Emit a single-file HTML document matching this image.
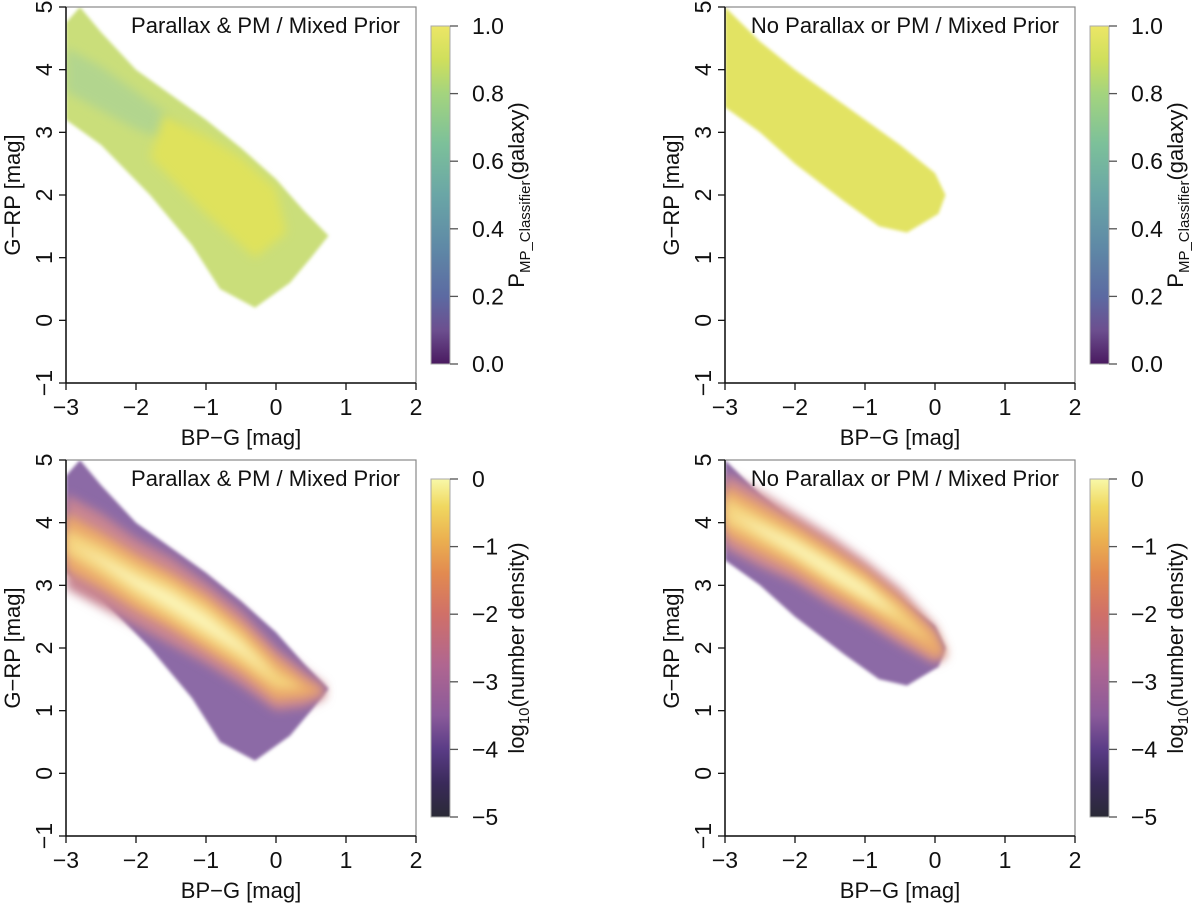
<!DOCTYPE html>
<html><head><meta charset="utf-8">
<style>
html,body{margin:0;padding:0;background:#fff;}
svg{display:block;font-family:"Liberation Sans",Arial,sans-serif;}
</style></head>
<body>
<svg id="fig" width="1200" height="907" viewBox="0 0 1200 907" xmlns="http://www.w3.org/2000/svg">
<defs>
<linearGradient id="viridis" x1="0" y1="1" x2="0" y2="0">
<stop offset="0" stop-color="#4a1a60"/><stop offset="0.1" stop-color="#6c4f8f"/>
<stop offset="0.2" stop-color="#5c6aa2"/><stop offset="0.35" stop-color="#5f8aa6"/>
<stop offset="0.5" stop-color="#6aa6a6"/><stop offset="0.65" stop-color="#7cc09a"/>
<stop offset="0.8" stop-color="#a4d47e"/><stop offset="0.9" stop-color="#cfdf5c"/>
<stop offset="1" stop-color="#ece666"/></linearGradient>
<linearGradient id="inferno" x1="0" y1="1" x2="0" y2="0">
<stop offset="0" stop-color="#2a2a36"/><stop offset="0.1" stop-color="#3a2a5a"/>
<stop offset="0.2" stop-color="#5a3c86"/><stop offset="0.3" stop-color="#8a5a9a"/>
<stop offset="0.45" stop-color="#b06690"/><stop offset="0.6" stop-color="#d07068"/>
<stop offset="0.72" stop-color="#e28a50"/><stop offset="0.82" stop-color="#ebb050"/>
<stop offset="0.92" stop-color="#f0d860"/><stop offset="1" stop-color="#f8f8a8"/></linearGradient>
<filter id="soft" x="-10%" y="-10%" width="120%" height="120%"><feGaussianBlur stdDeviation="5"/></filter>
<filter id="soft2" x="-10%" y="-10%" width="120%" height="120%"><feGaussianBlur stdDeviation="1.5"/></filter>
</defs>
</svg>
<script>
const xTicks=[-3,-2,-1,0,1,2];
const yTicks=[-1,0,1,2,3,4,5];
const probTicks=[0.0,0.2,0.4,0.6,0.8,1.0];
const densTicks=[-5,-4,-3,-2,-1,0];
// panel 1 (parallax & PM) outline of populated region
const p1OutlineBP=[-3,-2.8,-2.5,-2,-1.5,-1,-0.5,0,0.4,0.75,0.5,0.2,-0.3,-0.8,-1.2,-1.8,-2.5,-3];
const p1OutlineGRP=[4.75,5.0,4.6,4.0,3.6,3.2,2.75,2.25,1.75,1.35,1.0,0.6,0.2,0.5,1.2,2.0,2.8,3.2];
const p1CoreBP=[-1.6,-1.0,-0.5,0,0.15,-0.3,-1.0,-1.8];
const p1CoreGRP=[3.3,2.95,2.6,2.1,1.4,1.0,1.7,2.6];
// panel 2 (no parallax) outline
const p2OutlineBP=[-3,-2.5,-2,-1.5,-1,-0.5,0,0.15,0.05,-0.4,-0.8,-1.3,-2,-2.5,-3];
const p2OutlineGRP=[5.0,4.45,4.0,3.6,3.2,2.8,2.35,2.0,1.7,1.4,1.5,1.9,2.5,3.0,3.4];
// bottom panels: density ridge and level half-widths
const p3RidgeBP=[-3,-2.5,-2,-1.5,-1,-0.5,0,0.4,0.7];
const p3RidgeGRP=[3.7,3.4,3.05,2.75,2.4,2.0,1.5,1.35,1.3];
const p3Level1=[0.75,0.75,0.7,0.7,0.65,0.6,0.5,0.3,0.1];
const p3Level2=[0.45,0.45,0.45,0.45,0.45,0.4,0.35,0.15,0];
const p3Level3=[0.2,0.25,0.28,0.3,0.3,0.25,0.15,0,0];
const p3Level4=[0,0.05,0.1,0.14,0.14,0.08,0,0,0];
const p4RidgeBP=[-3,-2.5,-2,-1.5,-1,-0.5,0,0.15];
const p4RidgeGRP=[4.2,3.9,3.6,3.25,2.9,2.5,2.05,1.9];
const p4Level1=[0.6,0.6,0.55,0.55,0.5,0.45,0.3,0.05];
const p4Level2=[0.4,0.4,0.38,0.38,0.35,0.3,0.2,0];
const p4Level3=[0.22,0.22,0.22,0.22,0.2,0.14,0,0];
const p4Level4=[0,0.06,0.1,0.12,0.1,0,0,0];

const NS="http://www.w3.org/2000/svg";
const svg=document.getElementById('fig');
function mk(tag,attrs,parent){const e=document.createElementNS(NS,tag);for(const k in attrs)e.setAttribute(k,attrs[k]);(parent||svg).appendChild(e);return e;}

function panel(ox,oy,title,id){
  const L=66+ox,R=416+ox,T=7+oy,B=383+oy;
  const sx=v=>L+(v+3)/5*(R-L);
  const sy=v=>B-(v+1)/6*(B-T);
  const g=mk('g',{});
  
  
  const clip=mk('clipPath',{id:'clip'+id},g);
  mk('rect',{x:L,y:T,width:R-L,height:B-T},clip);
  const data=mk('g',{'clip-path':'url(#clip'+id+')'},g);
  
  
  return {g,data,L,R,T,B,sx,sy,title,id};
}
function poly(p,xs,ys,fill,parent,filter,name){
  const pts=xs.map((x,i)=>p.sx(x).toFixed(1)+','+p.sy(ys[i]).toFixed(1)).join(' ');
  const e=mk('polygon',{points:pts,fill:fill,'stroke-linejoin':'round'},parent||p.data);
  if(filter)e.setAttribute('filter',filter);
  
  
  return e;
}
function band(p,rx,ry,w,fill,name){
  const xs=[],ys=[];
  rx.forEach((x,i)=>{xs.push(x);ys.push(ry[i]+w[i]);});
  for(let i=rx.length-1;i>=0;i--){xs.push(rx[i]);ys.push(ry[i]-w[i]);}
  poly(p,xs,ys,fill,null,'url(#soft)',name);
}
function axes(p,cbGrad,cbTicks,cbLabelFmt,cbTitle){
  const g=p.g;
  const box=mk('rect',{x:p.L,y:p.T,width:p.R-p.L,height:p.B-p.T,fill:'none',stroke:'#888','stroke-width':1.2},g);
  
  
  mk('line',{x1:p.L,y1:p.B,x2:p.R,y2:p.B,stroke:'#111','stroke-width':1.5},g);
  mk('line',{x1:p.L,y1:p.T,x2:p.L,y2:p.B,stroke:'#111','stroke-width':1.5},g);
  xTicks.forEach(v=>{
    const x=p.sx(v);
    mk('line',{x1:x,y1:p.B,x2:x,y2:p.B+7,stroke:'#111','stroke-width':1.3},g);
    const t=mk('text',{x:x,y:p.B+32,'text-anchor':'middle','font-size':23,fill:'#111'},g);
    t.textContent=v<0?'\u2212'+(-v):String(v);
    
    
  });
  yTicks.forEach(v=>{
    const y=p.sy(v);
    mk('line',{x1:p.L,y1:y,x2:p.L-7,y2:y,stroke:'#111','stroke-width':1.3},g);
    const t=mk('text',{x:0,y:0,'text-anchor':'middle','font-size':23,fill:'#111',transform:`translate(${p.L-14},${y}) rotate(-90)`},g);
    t.textContent=v<0?'\u2212'+(-v):String(v);
    
    
  });
  const xt=mk('text',{x:(p.L+p.R)/2,y:p.B+62,'text-anchor':'middle','font-size':22,fill:'#111'},g);
  xt.textContent='BP\u2212G [mag]';
  
  
  const yt=mk('text',{x:0,y:0,'text-anchor':'middle','font-size':22,fill:'#111',transform:`translate(${p.L-46},${(p.T+p.B)/2}) rotate(-90)`},g);
  yt.textContent='G\u2212RP [mag]';
  
  
  const tt=mk('text',{x:p.R-16,y:p.T+26,'text-anchor':'end','font-size':22,fill:'#111'},g);
  tt.textContent=p.title;
  
  
  // colorbar
  const cL=p.R+15,cR=p.R+34,cT=p.T+19,cB=p.B-19;
  const cb=mk('rect',{x:cL,y:cT,width:cR-cL,height:cB-cT,fill:'url(#'+cbGrad+')',stroke:'#aaa','stroke-width':1},g);
  
  
  const lo=cbTicks[0],hi=cbTicks[cbTicks.length-1];
  cbTicks.forEach(v=>{
    const y=cB-(v-lo)/(hi-lo)*(cB-cT);
    mk('line',{x1:cR,y1:y,x2:cR+8,y2:y,stroke:'#555','stroke-width':1.3},g);
    const t=mk('text',{x:cR+22,y:y+8,'font-size':23,fill:'#111'},g);
    t.textContent=cbLabelFmt(v);
    
    
  });
  const ct=mk('text',{x:0,y:0,'text-anchor':'middle','font-size':22,fill:'#111',transform:`translate(${cR+74},${(cT+cB)/2}) rotate(-90)`},g);
  ct.innerHTML=cbTitle;
  
  
}
const probFmt=v=>v.toFixed(1);
const densFmt=v=>v<0?'\u2212'+(-v):String(v);
const probTitle='P<tspan font-size="15" dy="6">MP_Classifier</tspan><tspan dy="-6">(galaxy)</tspan>';
const densTitle='log<tspan font-size="15" dy="5">10</tspan><tspan dy="-5">(number density)</tspan>';

// Panel 1
const p1=panel(0,0,'Parallax & PM / Mixed Prior','p1');
poly(p1,p1OutlineBP,p1OutlineGRP,'#cade7a',null,'url(#soft2)','probability-region');
band(p1,p3RidgeBP,p3RidgeGRP.map(v=>v+0.3),[0.35,0.35,0.3,0.2,0.1,0,0,0,0],'#b2d58e','low-probability-streak');
poly(p1,p1CoreBP,p1CoreGRP,'#dfe25c',null,'url(#soft)','high-probability-core');
axes(p1,'viridis',probTicks,probFmt,probTitle);

// Panel 2
const p2=panel(659,0,'No Parallax or PM / Mixed Prior','p2');
poly(p2,p2OutlineBP,p2OutlineGRP,'#e2e364',null,'url(#soft2)','probability-region');
axes(p2,'viridis',probTicks,probFmt,probTitle);

// Panel 3
const p3=panel(0,453,'Parallax & PM / Mixed Prior','p3');
poly(p3,p1OutlineBP,p1OutlineGRP,'#8c6aa6',null,'url(#soft2)','density-outer');
band(p3,p3RidgeBP,p3RidgeGRP,p3Level1,'#c88492','density-level-3');
band(p3,p3RidgeBP,p3RidgeGRP,p3Level2,'#eaa86a','density-level-2');
band(p3,p3RidgeBP,p3RidgeGRP,p3Level3,'#f4d27c','density-level-1');
band(p3,p3RidgeBP,p3RidgeGRP,p3Level4,'#fbf4b6','density-peak');
axes(p3,'inferno',densTicks,densFmt,densTitle);

// Panel 4
const p4=panel(659,453,'No Parallax or PM / Mixed Prior','p4');
poly(p4,p2OutlineBP,p2OutlineGRP,'#8c6aa6',null,'url(#soft2)','density-outer');
band(p4,p4RidgeBP,p4RidgeGRP,p4Level1,'#cc8892','density-level-3');
band(p4,p4RidgeBP,p4RidgeGRP,p4Level2,'#eaa86a','density-level-2');
band(p4,p4RidgeBP,p4RidgeGRP,p4Level3,'#f4d27c','density-level-1');
band(p4,p4RidgeBP,p4RidgeGRP,p4Level4,'#fbf4b6','density-peak');
axes(p4,'inferno',densTicks,densFmt,densTitle);
</script>
</body></html>
